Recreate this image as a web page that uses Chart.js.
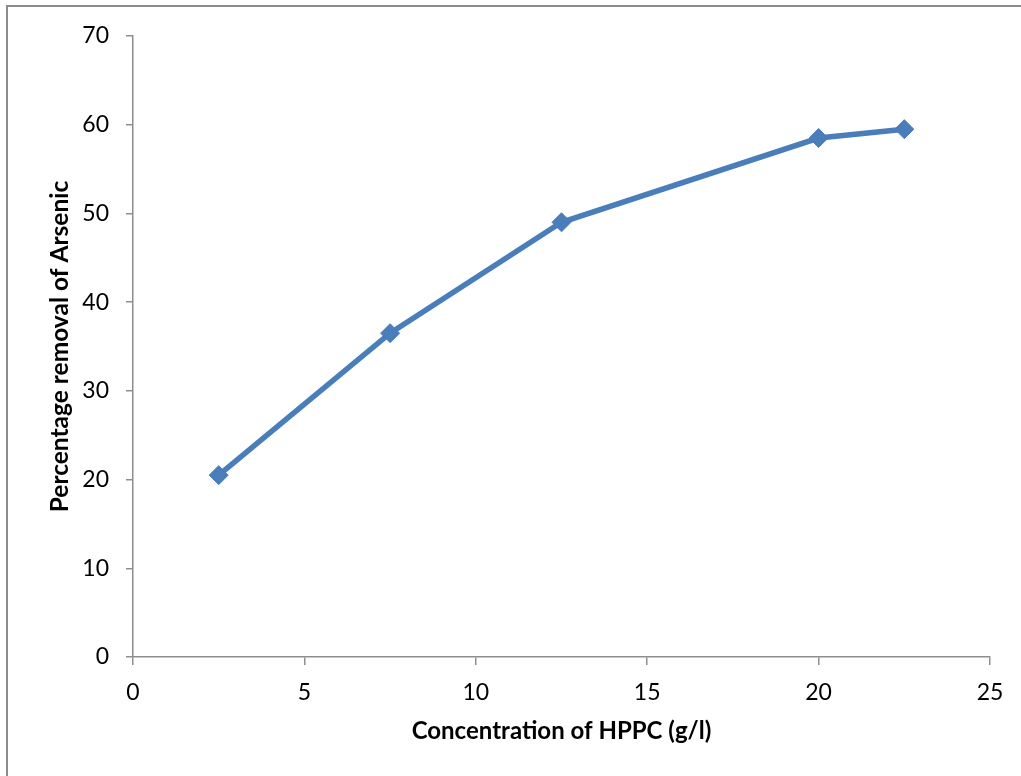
<!DOCTYPE html>
<html>
<head>
<meta charset="utf-8">
<script src="https://cdn.jsdelivr.net/npm/chart.js@4/dist/chart.umd.min.js"></script>
<style>
  html, body { margin: 0; padding: 0; background: #fff; }
  #wrap { width: 1021px; height: 776px; position: relative; }
</style>
</head>
<body>
<div id="wrap"><canvas id="c" width="1021" height="776"></canvas></div>
<script>
// HPPC dose (g/l) and arsenic removal (%)
const concentration = [2.5, 7.5, 12.5, 20, 22.5];
const removal = [20.5, 36.5, 49, 58.5, 59.5];

const xTitle = 'Concentration of HPPC (g/l)';
const yTitle = 'Percentage removal of Arsenic';

const axisGray = '#8e8e8e';
const lineBlue = '#4a7ebb';
const fontFamily = 'Lato, "Liberation Sans", sans-serif';

// outer frame of the chart object (top and left edges)
const framePlugin = {
  id: 'frame',
  beforeDraw(chart) {
    const ctx = chart.ctx;
    ctx.save();
    ctx.fillStyle = '#ffffff';
    ctx.fillRect(0, 0, chart.width, chart.height);
    ctx.strokeStyle = '#8c8c8c';
    ctx.lineWidth = 2;
    ctx.beginPath();
    ctx.moveTo(7, chart.height);
    ctx.lineTo(7, 6);
    ctx.lineTo(chart.width, 6);
    ctx.stroke();
    ctx.restore();
  }
};

new Chart(document.getElementById('c'), {
  type: 'line',
  data: {
    datasets: [{
      data: concentration.map((x, i) => ({ x, y: removal[i] })),
      borderColor: lineBlue,
      backgroundColor: lineBlue,
      borderWidth: 5.5,
      pointStyle: 'rectRot',
      pointRadius: 9.5,
      pointHoverRadius: 9.5,
      pointBorderWidth: 1,
      pointBorderColor: lineBlue,
      pointBackgroundColor: lineBlue,
      tension: 0,
      fill: false
    }]
  },
  options: {
    responsive: false,
    animation: false,
    devicePixelRatio: 1,
    layout: { padding: { top: 36, right: 31, bottom: 0, left: 0 } },
    plugins: {
      legend: { display: false },
      tooltip: { enabled: false }
    },
    scales: {
      x: {
        type: 'linear',
        min: 0, max: 25,
        ticks: { stepSize: 5, color: '#000', padding: 14, font: { family: fontFamily, size: 23 } },
        grid: { drawOnChartArea: false, drawTicks: true, tickLength: 8, color: axisGray, lineWidth: 1.5 },
        border: { color: axisGray, width: 1.5 },
        title: {
          display: true, text: xTitle, color: '#000',
          font: { family: fontFamily, size: 24, weight: 'bold' },
          padding: { top: 0, bottom: 30 }
        },
        afterFit(scale) { scale.height = 119; }
      },
      y: {
        type: 'linear',
        min: 0, max: 70,
        ticks: { stepSize: 10, color: '#000', padding: 17, font: { family: fontFamily, size: 23 } },
        grid: { drawOnChartArea: false, drawTicks: true, tickLength: 7, color: axisGray, lineWidth: 1.5 },
        border: { color: axisGray, width: 1.5 },
        title: {
          display: true, text: yTitle, color: '#000',
          font: { family: fontFamily, size: 24.5, weight: 'bold' },
          padding: { top: 45, bottom: 0 }
        },
        afterFit(scale) { scale.width = 133; }
      }
    }
  },
  plugins: [framePlugin]
});
</script>
</body>
</html>
